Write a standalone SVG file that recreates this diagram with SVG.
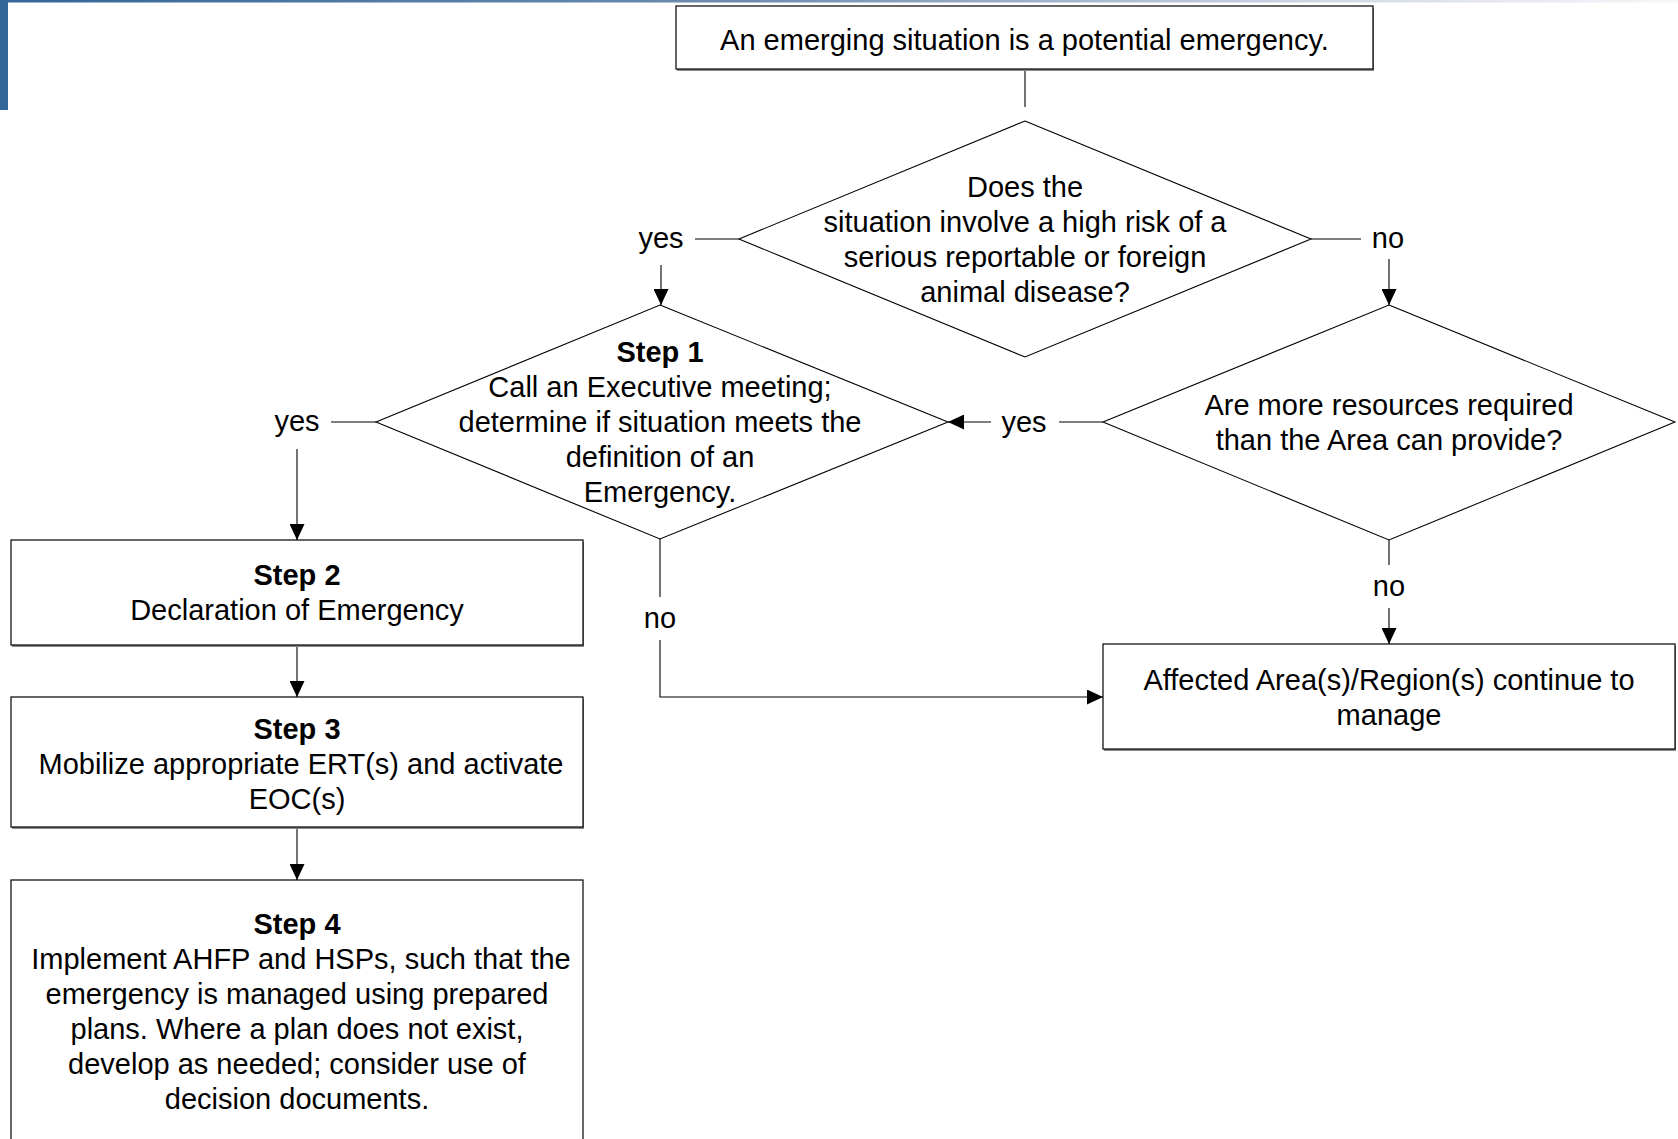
<svg xmlns="http://www.w3.org/2000/svg" width="1678" height="1139" viewBox="0 0 1678 1139">
<defs>
<linearGradient id="topbar" x1="0" y1="0" x2="1" y2="0">
<stop offset="0" stop-color="#336699"/>
<stop offset="0.45" stop-color="#6f8db0"/>
<stop offset="0.8" stop-color="#d4dae6"/>
<stop offset="1" stop-color="#f6f6f9"/>
</linearGradient>
<marker id="arr" markerUnits="userSpaceOnUse" markerWidth="16" markerHeight="15" refX="16" refY="7.5" orient="auto">
<path d="M0,0 L16,7.5 L0,15 z" fill="#000"/>
</marker>
</defs>
<style>
.box{fill:#fff;stroke:#000;stroke-width:1.2}
.shadow{fill:#8a8a8a}
.dia{fill:#fff;stroke:#000;stroke-width:1.1}
.t{font-family:"Liberation Sans",Arial,sans-serif;font-size:29px;fill:#000;text-anchor:middle}
.b{font-weight:bold}
.c{fill:none;stroke:#000;stroke-width:1.1}
</style>
<rect x="0" y="0" width="1678" height="2.5" fill="url(#topbar)"/>
<rect x="0" y="0" width="8" height="110" fill="#336699"/>

<g id="connectors">
<line class="c" x1="1025" y1="69" x2="1025" y2="107"/>
<line class="c" x1="739" y1="239" x2="695" y2="239"/>
<line class="c" x1="661" y1="265" x2="661" y2="305" marker-end="url(#arr)"/>
<line class="c" x1="1311" y1="239" x2="1361" y2="239"/>
<line class="c" x1="1389" y1="259" x2="1389" y2="305" marker-end="url(#arr)"/>
<line class="c" x1="376" y1="422" x2="331" y2="422"/>
<line class="c" x1="297" y1="449" x2="297" y2="540" marker-end="url(#arr)"/>
<line class="c" x1="1103" y1="422" x2="1059" y2="422"/>
<line class="c" x1="991" y1="422" x2="948" y2="422" marker-end="url(#arr)"/>
<line class="c" x1="660" y1="539" x2="660" y2="597"/>
<path class="c" d="M660,640 L660,697 L1103,697" marker-end="url(#arr)"/>
<line class="c" x1="1389" y1="540" x2="1389" y2="565"/>
<line class="c" x1="1389" y1="608" x2="1389" y2="644" marker-end="url(#arr)"/>
<line class="c" x1="297" y1="645" x2="297" y2="697" marker-end="url(#arr)"/>
<line class="c" x1="297" y1="828" x2="297" y2="880" marker-end="url(#arr)"/>
<text class="t" x="661" y="248">yes</text>
<text class="t" x="1388" y="248">no</text>
<text class="t" x="297" y="431">yes</text>
<text class="t" x="1024" y="432">yes</text>
<text class="t" x="660" y="628">no</text>
<text class="t" x="1389" y="596">no</text>
</g>

<g id="start">
<rect class="shadow" x="677" y="8" width="697" height="63"/>
<rect class="box" x="676" y="6" width="697" height="63"/>
<text class="t" x="1024.5" y="49.5">An emerging situation is a potential emergency.</text>
</g>

<g id="decision-risk">
<polygon class="dia" points="1025,121 1311,239 1025,357 739,239"/>
<text class="t" x="1025" y="196.5">Does the</text>
<text class="t" x="1025" y="231.5">situation involve a high risk of a</text>
<text class="t" x="1025" y="266.5">serious reportable or foreign</text>
<text class="t" x="1025" y="301.5">animal disease?</text>
</g>

<g id="step1">
<polygon class="dia" points="660,305 948,422 660,539 376,422"/>
<text class="t b" x="660" y="362">Step 1</text>
<text class="t" x="660" y="397">Call an Executive meeting;</text>
<text class="t" x="660" y="432">determine if situation meets the</text>
<text class="t" x="660" y="467">definition of an</text>
<text class="t" x="660" y="502">Emergency.</text>
</g>

<g id="decision-resources">
<polygon class="dia" points="1389,305 1675,422 1389,540 1103,422"/>
<text class="t" x="1389" y="414.5">Are more resources required</text>
<text class="t" x="1389" y="449.5">than the Area can provide?</text>
</g>

<g id="affected">
<rect class="shadow" x="1104" y="646" width="572" height="105"/>
<rect class="box" x="1103" y="644" width="572" height="105"/>
<text class="t" x="1389" y="689.5">Affected Area(s)/Region(s) continue to</text>
<text class="t" x="1389" y="724.5">manage</text>
</g>

<g id="step2">
<rect class="shadow" x="12" y="542" width="572" height="105"/>
<rect class="box" x="11" y="540" width="572" height="105"/>
<text class="t b" x="297" y="584.5">Step 2</text>
<text class="t" x="297" y="619.5">Declaration of Emergency</text>
</g>

<g id="step3">
<rect class="shadow" x="12" y="699" width="572" height="130"/>
<rect class="box" x="11" y="697" width="572" height="130"/>
<text class="t b" x="297" y="738.5">Step 3</text>
<text class="t" x="301" y="773.5">Mobilize appropriate ERT(s) and activate</text>
<text class="t" x="297" y="808.5">EOC(s)</text>
</g>

<g id="step4">
<rect class="box" x="11" y="880" width="572" height="280"/>
<text class="t b" x="297" y="934">Step 4</text>
<text class="t" x="301" y="969">Implement AHFP and HSPs, such that the</text>
<text class="t" x="297" y="1004">emergency is managed using prepared</text>
<text class="t" x="297" y="1039">plans. Where a plan does not exist,</text>
<text class="t" x="297" y="1074">develop as needed; consider use of</text>
<text class="t" x="297" y="1109">decision documents.</text>
</g>
</svg>
